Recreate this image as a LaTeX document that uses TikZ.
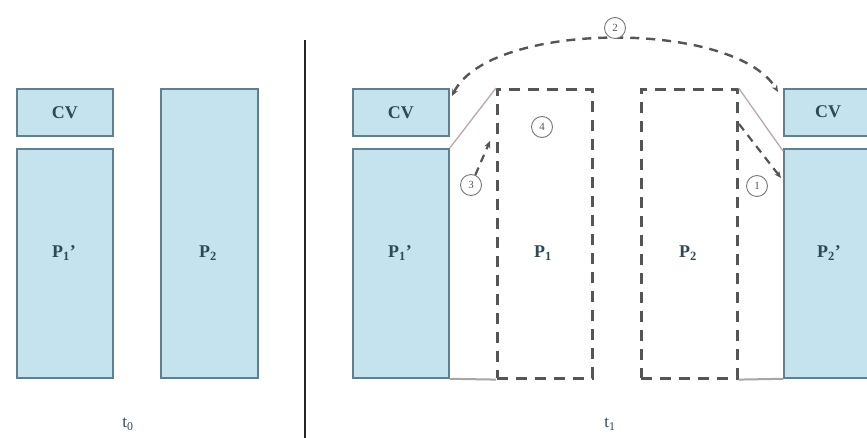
\documentclass[tikz,border=0pt]{standalone}
\usepackage{fontspec}
\setmainfont{Liberation Serif}
\usetikzlibrary{arrows.meta}
\definecolor{boxfill}{HTML}{C4E3EE}
\definecolor{boxline}{HTML}{647F8C}
\definecolor{txtc}{HTML}{2E4856}
\definecolor{dashc}{HTML}{555555}
\definecolor{thinc}{HTML}{B9A9A9}
\definecolor{circc}{HTML}{777777}
\newcommand{\lblfont}{\fontsize{18}{20}\selectfont\bfseries\color{txtc}}
\begin{document}
\begin{tikzpicture}[x=1bp,y=-1bp,
  box/.style={draw=boxline, fill=boxfill, line width=1.8bp, inner sep=0, anchor=north west},
  dbox/.style={draw=dashc, dash pattern=on 11bp off 8bp, line width=2.6bp, inner sep=0, anchor=north west},
  lbl/.style={font=\lblfont, inner sep=0},
  circ/.style={circle, draw=circc, line width=0.9bp, minimum size=21bp, inner sep=0, fill=white, font=\fontsize{11}{12}\selectfont\color{dashc}},
  darr/.style={draw=dashc, dash pattern=on 8bp off 6bp, line width=2.2bp, -{Stealth[length=7bp,width=6bp]}},
  thin/.style={draw=thinc, line width=1.3bp},
  base/.style={draw=gray!70, line width=2bp}
]
\useasboundingbox (0,0) rectangle (867,438);
\clip (0,0) rectangle (867,438);
% left panel
\node[box, minimum width=96bp, minimum height=47bp] (cvA) at (16,88) {};
\node[lbl] at (cvA.center) {CV};
\node[box, minimum width=96bp, minimum height=229bp] (p1A) at (16,148) {};
\node[lbl] (p1Al) at (64,253) {P\textsubscript{1}'};
\node[box, minimum width=97bp, minimum height=289bp] (p2A) at (160,88) {};
\node[lbl] (p2Al) at (208,253) {P\textsubscript{2}};
\node[font=\fontsize{17}{19}\selectfont\color{txtc}, inner sep=0] (t0) at (128,424) {t\textsubscript{0}};
% divider
\coordinate (dtop) at (305,40);
\coordinate (dbot) at (305,438);
\draw[line width=2.6bp, black!85] (dtop) -- (dbot);
% right panel
\node[box, minimum width=96bp, minimum height=47bp] (cvB) at (352,88) {};
\node[lbl] at (cvB.center) {CV};
\node[box, minimum width=96bp, minimum height=229bp] (p1B) at (352,148) {};
\node[lbl] (p1Bl) at (400,253) {P\textsubscript{1}'};
\node[dbox, minimum width=95bp, minimum height=289bp] (p1D) at (496,88) {};
\node[lbl] (p1Dl) at (543,253) {P\textsubscript{1}};
\node[dbox, minimum width=96bp, minimum height=289bp] (p2D) at (640,88) {};
\node[lbl] (p2Dl) at (688,253) {P\textsubscript{2}};
\node[box, minimum width=100bp, minimum height=47bp] (cvC) at (783,88) {};
\node[lbl] at (828,111.5) {CV};
\node[box, minimum width=100bp, minimum height=229bp] (p2C) at (783,148) {};
\node[lbl] (p2Cl) at (829,253) {P\textsubscript{2}'};
\node[font=\fontsize{17}{19}\selectfont\color{txtc}, inner sep=0] (t1) at (610,424) {t\textsubscript{1}};
% thin connectors
\draw[thin] (p1B.north east) -- (p1D.north west);
\draw[thin] (p2D.north east) -- ([yshift=-3bp]p2C.north west);
\draw[base] (p1B.south east) -- (p1D.south west);
\draw[base] (p2D.south east) -- (p2C.south west);
% arrow 2
\coordinate (a2s) at (452,96);
\coordinate (a2e) at (778,92);
\draw[draw=dashc, dash pattern=on 9bp off 7bp, line width=2.4bp, {Stealth[length=7bp,width=6bp]}-{Stealth[length=7bp,width=6bp]}]
  (a2s) .. controls (490,20) and (735,20) .. (a2e);
\node[circ] (c2) at (615,28) {2};
% circle 4
\node[circ] (c4) at (542,127) {4};
% arrow 3
\node[circ] (c3) at (471,185) {3};
\coordinate (a3e) at (490,141);
\draw[darr] (c3) -- (a3e);
% arrow 1
\node[circ] (c1) at (757,186) {1};
\coordinate (a1s) at (739,124);
\coordinate (a1e) at (781,178);
\draw[darr] (a1s) -- (a1e);
\end{tikzpicture}
\end{document}
